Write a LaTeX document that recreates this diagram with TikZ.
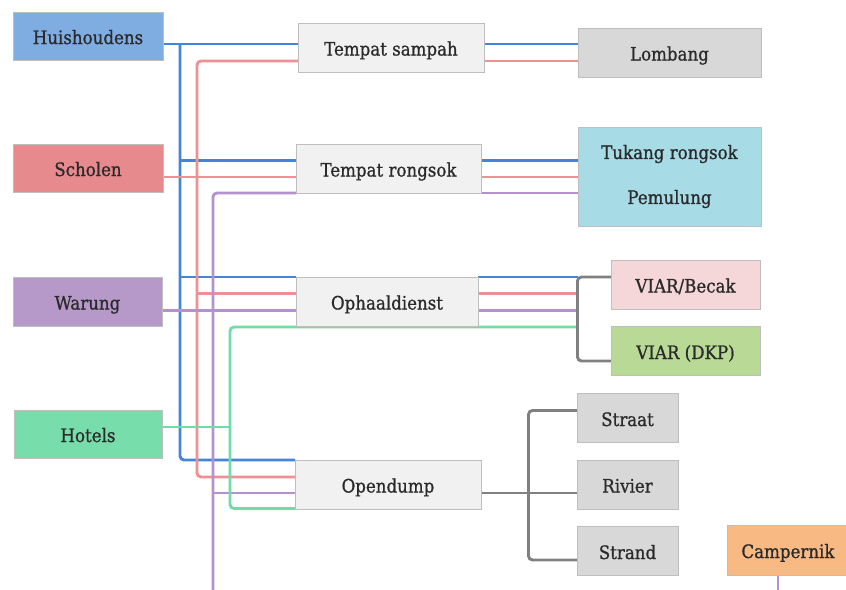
\documentclass[tikz,border=0pt]{standalone}
\usepackage{fontspec}
\setmainfont{DejaVu Serif}[FakeStretch=0.9, FakeBold=0.9]
\usetikzlibrary{backgrounds}

% box fills
\definecolor{fHH}{HTML}{7FADE1}
\definecolor{fSC}{HTML}{E68A8D}
\definecolor{fWA}{HTML}{B699C9}
\definecolor{fHO}{HTML}{77DDAB}
\definecolor{fMID}{HTML}{F1F1F1}
\definecolor{fGRY}{HTML}{D8D8D8}
\definecolor{fTK}{HTML}{A7DCE6}
\definecolor{fVB}{HTML}{F5D6D9}
\definecolor{fVD}{HTML}{B9DA97}
\definecolor{fCA}{HTML}{F9B983}
\definecolor{boxline}{HTML}{BEBEBE}
\definecolor{txt}{HTML}{2A2A2A}
% wire colours
\definecolor{wBlue}{HTML}{4285DB}
\definecolor{wRed}{HTML}{EE9094}
\definecolor{wPur}{HTML}{B592CE}
\definecolor{wGrn}{HTML}{70DCA6}
\definecolor{wGray}{HTML}{808080}

\begin{document}
\begin{tikzpicture}[x=1pt,y=-1pt,
  box/.style={draw=boxline, line width=0.8pt, inner sep=0pt, outer sep=0pt,
    font=\fontsize{18.5}{21}\selectfont, text=txt, align=center},
  one/.style={box, text height=18pt, text depth=2pt},
  wire/.style={line width=2.9pt, rounded corners=4pt}]
\useasboundingbox (0,0) rectangle (846,589);

% sources
\node[one, fill=fHH, minimum width=150, minimum height=48] (hh) at (88,36) {Huishoudens};
\node[one, fill=fSC, minimum width=150, minimum height=48] (sc) at (88,168) {Scholen};
\node[one, fill=fWA, minimum width=149, minimum height=49] (wa) at (87.5,301.5) {Warung};
\node[one, fill=fHO, minimum width=148, minimum height=48] (ho) at (88,434) {Hotels};

% collection points
\node[one, fill=fMID, minimum width=186, minimum height=49] (ts) at (391,47.5) {Tempat sampah};
\node[one, fill=fMID, minimum width=185, minimum height=49] (tr) at (388.5,168.5) {Tempat rongsok};
\node[one, fill=fMID, minimum width=182, minimum height=49] (op) at (387,301.5) {Ophaaldienst};
\node[one, fill=fMID, minimum width=186, minimum height=49] (od) at (388,484.5) {Opendump};

% destinations
\node[one, fill=fGRY, minimum width=183, minimum height=49] (lo) at (669.5,52.5) {Lombang};
\node[box, fill=fTK, minimum width=183, minimum height=99] (tk) at (669.5,176.5) {Tukang rongsok\\[24pt]Pemulung};
\node[one, fill=fVB, minimum width=149, minimum height=49] (vb) at (685.5,284.5) {VIAR/Becak};
\node[one, fill=fVD, minimum width=149, minimum height=49] (vd) at (685.5,351) {VIAR (DKP)};
\node[one, fill=fGRY, minimum width=101, minimum height=49] (st) at (627.5,418) {Straat};
\node[one, fill=fGRY, minimum width=101, minimum height=49] (ri) at (627.5,484.5) {Rivier};
\node[one, fill=fGRY, minimum width=101, minimum height=49] (sd) at (627.5,551) {Strand};
\node[one, fill=fCA, minimum width=121, minimum height=50] (ca) at (788,550) {Campernik};

% vertical bus lines and loose ends
\coordinate (bB) at (180,0);
\coordinate (bR) at (197,0);
\coordinate (bP) at (213,0);
\coordinate (bG) at (230,0);
\coordinate (gV) at (577.5,0);
\coordinate (bS) at (528.5,0);
\coordinate (pEnd) at (213,595);
\coordinate (cEnd) at (778,595);

\begin{scope}[on background layer]
  % blue: Huishoudens
  \draw[wire,wBlue] (hh.east |- 0,44) -- (ts.west |- 0,44);
  \draw[wire,wBlue] (bB |- 0,44) -- (bB |- od.north) -- (od.north west);
  \draw[wire,wBlue] (bB |- 0,160.5) -- (tr.west |- 0,160.5);
  \draw[wire,wBlue] (bB |- 0,277) -- (op.west |- 0,277);
  \draw[wire,wBlue] (ts.east |- 0,44) -- (lo.west |- 0,44);
  \draw[wire,wBlue] (tr.east |- 0,160.5) -- (tk.west |- 0,160.5);
  \draw[wire,wBlue] (op.east |- 0,277) -- (gV |- 0,277);

  % red: Scholen
  \draw[wire,wRed] (ts.west |- 0,61) -- (bR |- 0,61) -- (bR |- 0,477) -- (od.west |- 0,477);
  \draw[wire,wRed] (sc.east |- 0,177) -- (tr.west |- 0,177);
  \draw[wire,wRed] (bR |- 0,293.5) -- (op.west |- 0,293.5);
  \draw[wire,wRed] (ts.east |- 0,61) -- (lo.west |- 0,61);
  \draw[wire,wRed] (tr.east |- 0,177) -- (tk.west |- 0,177);
  \draw[wire,wRed] (op.east |- 0,293.5) -- (gV |- 0,293.5);

  % purple: Warung
  \draw[wire,wPur] (tr.west |- 0,193) -- (bP |- 0,193) -- (pEnd);
  \draw[wire,wPur] (wa.east |- 0,310.5) -- (op.west |- 0,310.5);
  \draw[wire,wPur] (bP |- 0,493) -- (od.west |- 0,493);
  \draw[wire,wPur] (tr.east |- 0,193) -- (tk.west |- 0,193);
  \draw[wire,wPur] (op.east |- 0,310.5) -- (gV |- 0,310.5);
  \draw[wire,wPur] (ca.south -| cEnd) -- (cEnd);

  % green: Hotels
  \draw[wire,wGrn] (gV |- 0,327) -- (bG |- 0,327) -- (bG |- 0,508.5) -- (od.west |- 0,508.5);
  \draw[wire,wGrn] (ho.east |- 0,427) -- (bG |- 0,427);

  % grey: onward transport and dumping
  \draw[wire,wGray] (vb.west |- 0,277) -- (gV |- 0,277) -- (gV |- 0,361) -- (vd.west |- 0,361);
  \draw[wire,wGray] (od.east |- 0,493) -- (ri.west |- 0,493);
  \draw[wire,wGray] (st.west |- 0,410.5) -- (bS |- 0,410.5) -- (bS |- 0,560) -- (sd.west |- 0,560);
\end{scope}
\end{tikzpicture}
\end{document}
